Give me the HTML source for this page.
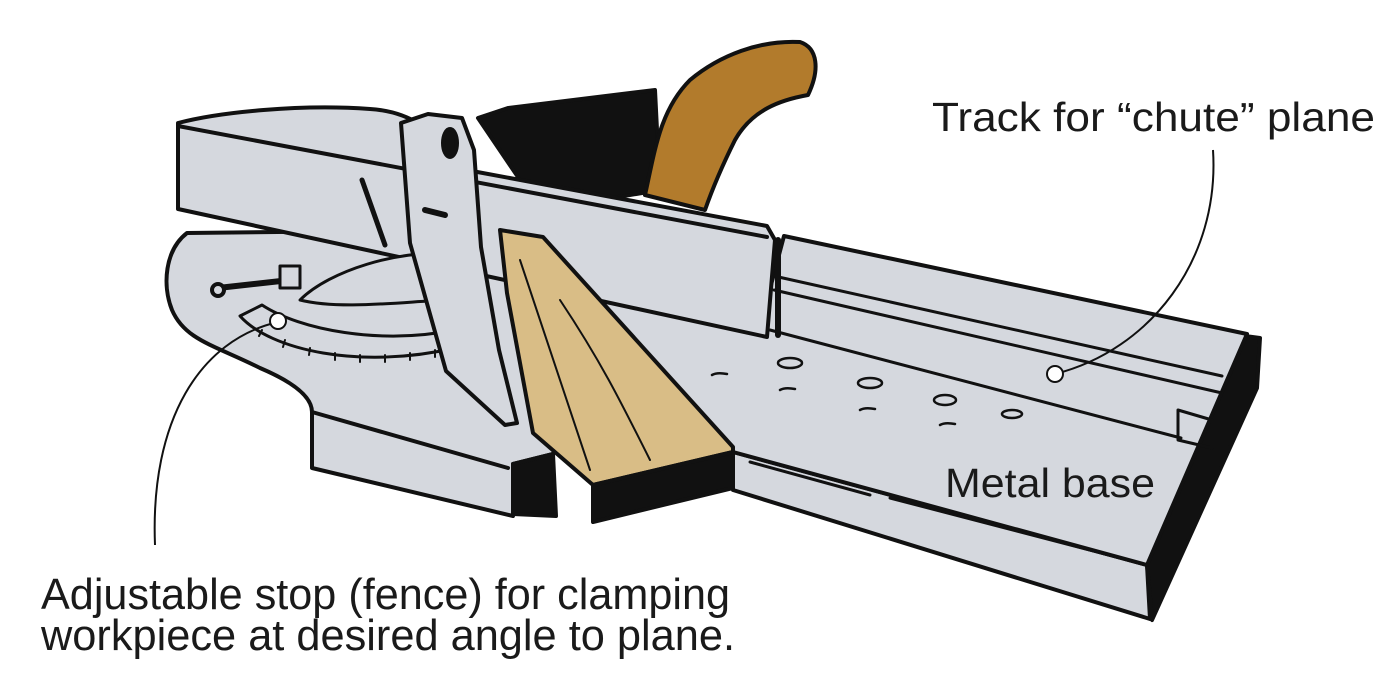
<!DOCTYPE html>
<html><head><meta charset="utf-8"><style>html,body{margin:0;padding:0;background:#fff}svg{display:block}</style></head>
<body>
<svg width="1400" height="691" viewBox="0 0 1400 691" xmlns="http://www.w3.org/2000/svg" font-family="Liberation Sans, sans-serif">
<g stroke="#111" stroke-width="4" stroke-linejoin="round" stroke-linecap="round">
<!-- plane body (black) -->
<path d="M478,118 L508,108 L655,90 L660,190 L600,200 L520,180 Z" fill="#111"/>
<!-- handle -->
<path d="M645,195 C655,150 660,110 690,80 C720,55 760,40 800,42 C818,48 820,70 808,95 C780,100 752,110 735,140 C720,170 712,190 705,210 Z" fill="#b27b2c"/>
<!-- main base: front face -->
<path d="M733,452 L1147,565 L1150,619 L733,490 Z" fill="#d5d8de"/>
<!-- right end dark face -->
<path d="M1147,565 L1245,336 L1260,338 L1257,388 L1152,620 Z" fill="#111"/>
<!-- main base top face -->
<path d="M600,300 L767,300 L784,236 L1247,334 L1147,565 L733,452 Z" fill="#d5d8de"/>
<!-- left platform -->
<path d="M187,233 C165,250 162,285 172,310 C185,340 214,345 260,368 C300,385 312,400 312,412 L312,468 L513,516 L513,464 L553,454 L600,330 L470,230 Z" fill="#d5d8de"/>
<path d="M312,412 L508,468" fill="none"/>
<path d="M513,464 L553,454 L556,516 L513,514 Z" fill="#111"/>
<!-- fence top face + front face -->
<path d="M178,123 C220,112 300,104 370,109 C420,112 440,140 472,171 L767,226 L775,240 L767,337 L178,209 Z" fill="#d5d8de"/>
<path d="M178,126 L767,237" fill="none"/>
<path d="M178,209 L767,337" fill="none" stroke-width="3"/>
<!-- track lines -->
<path d="M774,276 L1222,376 M774,290 L1222,393 M770,330 L1181,438 M1178,410 L1212,420 L1212,448 L1178,440 Z" fill="none" stroke-width="3"/>
<path d="M778,240 L778,335" fill="none" stroke-width="6"/>
<!-- front top edge of base -->
<path d="M750,462 L870,495 M890,498 L1147,565" fill="none" stroke-width="3"/>
<!-- holes -->
<g fill="none" stroke-width="2.5">
<ellipse cx="790" cy="363" rx="12" ry="5"/><ellipse cx="870" cy="383" rx="12" ry="5"/><ellipse cx="945" cy="400" rx="11" ry="5"/><ellipse cx="1012" cy="414" rx="10" ry="4"/>
<path d="M712,375 q5,-3 15,-1 M780,390 q5,-3 15,-1 M860,410 q5,-3 15,-1 M940,425 q5,-3 15,-1"/>
</g>
<!-- protractor -->
<path d="M240,316 C270,350 360,370 455,348 L455,330 C380,345 300,330 262,305 Z" fill="#d5d8de" stroke-width="3"/>
<path d="M262,330 l-3,6 M285,340 l-2,7 M310,348 l-1,7 M335,353 l0,7 M360,355 l0,7 M385,355 l0,7 M410,353 l0,7 M435,350 l0,7" stroke-width="2"/>
<path d="M300,300 C330,270 400,250 446,254 L446,300 C400,302 340,310 300,300 Z" fill="#d5d8de" stroke-width="3"/>
<path d="M218,288 L290,280" stroke-width="6"/>
<circle cx="218" cy="290" r="6" fill="#d5d8de"/>
<rect x="280" y="266" width="20" height="22" fill="#d5d8de" stroke-width="3"/>
<path d="M362,180 L385,245" stroke-width="5"/>
<!-- wood board -->
<path d="M500,230 L543,237 L733,447 L733,452 L593,485 L533,433 L507,293 Z" fill="#d9bd86"/>
<path d="M520,260 C540,320 560,380 590,470 M560,300 C600,360 620,400 650,460" fill="none" stroke-width="2"/>
<path d="M593,485 L733,452 L733,488 L593,522 Z" fill="#111"/>
<!-- fence plate -->
<path d="M401,123 L428,114 L462,118 L474,150 L481,247 L499,350 L517,423 L505,425 L446,371 L410,243 Z" fill="#d5d8de"/>
<ellipse cx="450" cy="143" rx="7" ry="14" fill="#111"/>
<path d="M425,210 L445,215" stroke-width="6"/>
</g>
<!-- callouts -->
<path d="M1213,150 C1220,260 1150,350 1055,374" fill="none" stroke="#111" stroke-width="2"/>
<circle cx="1055" cy="374" r="8" fill="#fff" stroke="#111" stroke-width="2"/>
<path d="M278,322 C200,340 150,420 155,545" fill="none" stroke="#111" stroke-width="2"/>
<circle cx="278" cy="321" r="8" fill="#fff" stroke="#111" stroke-width="2"/>
<!-- text -->
<g fill="#1a1a1a">
<text x="932" y="131" font-size="41" textLength="443" lengthAdjust="spacingAndGlyphs">Track for “chute” plane</text>
<text x="945" y="497" font-size="41" textLength="210" lengthAdjust="spacingAndGlyphs">Metal base</text>
<text x="41" y="609" font-size="44" textLength="689" lengthAdjust="spacingAndGlyphs">Adjustable stop (fence) for clamping</text>
<text x="41" y="650" font-size="44" textLength="694" lengthAdjust="spacingAndGlyphs">workpiece at desired angle to plane.</text>
</g>
</svg>
</body></html>
